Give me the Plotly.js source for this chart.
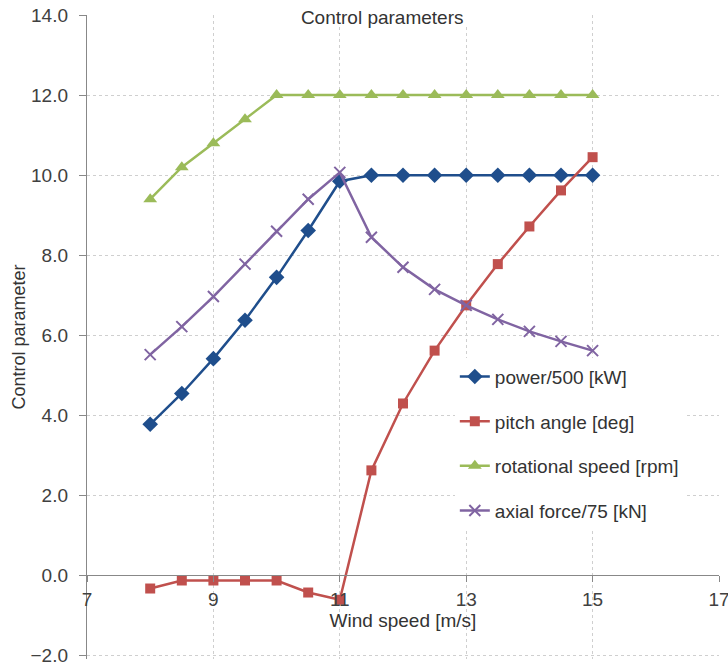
<!DOCTYPE html>
<html>
<head>
<meta charset="utf-8">
<script src="https://cdn.plot.ly/plotly-3.0.1.min.js"></script>
<style>html,body{margin:0;padding:0;background:#fff;}#chart{width:728px;height:664px;}</style>
</head>
<body>
<div id="chart"></div>
<script>
const windSpeed = [8, 8.5, 9, 9.5, 10, 10.5, 11, 11.5, 12, 12.5, 13, 13.5, 14, 14.5, 15];
const power500 = [3.78, 4.55, 5.42, 6.38, 7.45, 8.62, 9.85, 10.0, 10.0, 10.0, 10.0, 10.0, 10.0, 10.0, 10.0];
const pitchAngle = [-0.32, -0.12, -0.12, -0.12, -0.12, -0.42, -0.6, 2.63, 4.3, 5.62, 6.75, 7.78, 8.72, 9.62, 10.45];
const rotSpeed = [9.4, 10.2, 10.8, 11.4, 12.0, 12.0, 12.0, 12.0, 12.0, 12.0, 12.0, 12.0, 12.0, 12.0, 12.0];
const axialForce75 = [5.52, 6.22, 6.97, 7.78, 8.6, 9.4, 10.07, 8.45, 7.7, 7.15, 6.75, 6.4, 6.1, 5.85, 5.62];
const seriesNames = ["power/500 [kW]", "pitch angle [deg]", "rotational speed [rpm]", "axial force/75 [kN]"];
const yTickVals = [-2, 0, 2, 4, 6, 8, 10, 12, 14];
const xTickVals = [7, 9, 11, 13, 15, 17];

const FONT = "Liberation Sans, Arial, sans-serif";
const FS = 19;
const traces = [
  {x: windSpeed, y: power500, name: seriesNames[0], mode: "lines+markers", legendgroup: "a",
   line: {color: "#1F4E8C", width: 2.5}, marker: {symbol: "diamond", size: 12, color: "#1F4E8C"}},
  {x: windSpeed, y: pitchAngle, name: seriesNames[1], mode: "lines+markers", legendgroup: "b",
   line: {color: "#C0504D", width: 2.5}, marker: {symbol: "square", size: 10, color: "#C0504D"}},
  {x: windSpeed, y: rotSpeed, name: seriesNames[2], mode: "lines+markers", legendgroup: "c",
   line: {color: "#9BBB59", width: 2.5}, marker: {symbol: "triangle-up", size: 12, color: "#9BBB59"}},
  {x: windSpeed, y: axialForce75, name: seriesNames[3], mode: "lines+markers", legendgroup: "d",
   line: {color: "#8064A2", width: 2.5}, marker: {symbol: "x-thin-open", size: 11, color: "#8064A2", line: {color: "#8064A2", width: 2}}}
];

const layout = {
  width: 728, height: 664,
  margin: {l: 87, r: 9, t: 15, b: 5},
  paper_bgcolor: "#ffffff", plot_bgcolor: "#ffffff",
  font: {family: FONT, size: FS, color: "#404040"},
  title: {text: "Control parameters", x: 0.525, xanchor: "center", y: 0.974, yanchor: "middle",
          font: {family: FONT, size: FS, color: "#333333"}},
  showlegend: true,
  legend: {x: 0.582, xanchor: "left", y: 0.468, yanchor: "top", bgcolor: "#ffffff",
           traceorder: "grouped", tracegroupgap: 17, font: {family: FONT, size: FS, color: "#333333"}},
  xaxis: {range: [7, 17], tickvals: xTickVals, ticktext: xTickVals.map(String),
          anchor: "free", position: 0.13, showline: true, linecolor: "#888888", linewidth: 1.2,
          ticks: "outside", ticklen: 6, tickcolor: "#888888", ticklabelstandoff: 1, ticklabeloverflow: "allow",
          showgrid: true, gridcolor: "#cfcfcf", griddash: "dot", gridwidth: 1, zeroline: false,
          tickfont: {family: FONT, size: FS, color: "#404040"},
          title: {text: "Wind speed [m/s]", standoff: 4, font: {family: FONT, size: FS, color: "#333333"}}},
  yaxis: {range: [-2.08, 14], tickvals: yTickVals, tickformat: ".1f",
          showline: true, linecolor: "#888888", linewidth: 1.2, ticks: "outside", ticklen: 7, tickcolor: "#888888",
          ticklabelstandoff: 7, ticklabeloverflow: "allow",
          showgrid: true, gridcolor: "#cfcfcf", griddash: "dot", gridwidth: 1, zeroline: false,
          tickfont: {family: FONT, size: FS, color: "#404040"},
          title: {text: "Control parameter", standoff: 0, font: {family: FONT, size: 18, color: "#333333"}}},
  shapes: [
    {type: "rect", xref: "paper", yref: "paper", x0: 0.30, x1: 0.64, y0: 0.982, y1: 1.02,
     fillcolor: "#ffffff", line: {width: 0}, layer: "above"}
  ]
};

Plotly.newPlot("chart", traces, layout, {displayModeBar: false, staticPlot: true});
</script>
</body>
</html>
